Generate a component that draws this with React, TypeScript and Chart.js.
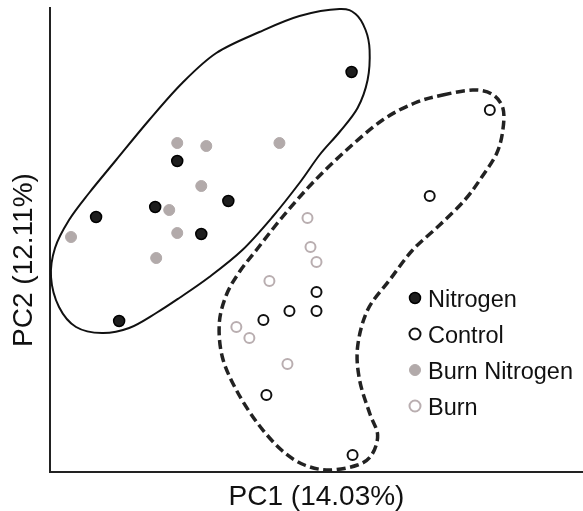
import { useEffect, useRef } from "react";
import { Chart, registerables } from "chart.js";

Chart.register(...registerables);

const FONT = "'Liberation Sans', Arial, Helvetica, sans-serif";

const seriesNames = ["Nitrogen", "Control", "Burn Nitrogen", "Burn"];

const nitrogenPC1 = [301, 127, 178, 105, 46, 151, 69];
const nitrogenPC2 = [400, 311, 271, 265, 255, 238, 151];
const controlPC1 = [439, 379, 266, 239, 266, 213, 216, 302];
const controlPC2 = [362, 276, 180, 161, 161, 152, 77, 17];
const burnNitrogenPC1 = [127, 156, 229, 151, 119, 21, 127, 106];
const burnNitrogenPC2 = [329, 326, 329, 286, 262, 235, 239, 214];
const burnPC1 = [257, 260, 266, 219, 186, 199, 237];
const burnPC2 = [254, 225, 210, 191, 145, 134, 108];

// outline of the nitrogen-treated group (solid)
const nitrogenHull: [number, number][] = [
  [1, 195], [5, 224], [19, 252], [39, 279], [66, 312], [99, 352], [132, 389],
  [166, 419], [209, 440], [249, 456], [289, 463], [305, 458], [315, 442],
  [319, 422], [317, 392], [307, 364], [289, 340], [269, 317], [249, 289],
  [222, 255], [192, 222], [159, 195], [129, 174], [106, 159], [79, 144],
  [52, 139], [26, 145], [9, 165],
];

// outline of the non-nitrogen group (dashed)
const controlHull: [number, number][] = [
  [392, 377], [422, 382], [441, 378], [452, 364], [452, 342], [446, 319],
  [431, 295], [414, 272], [389, 247], [362, 222], [339, 192], [317, 162],
  [307, 125], [309, 92], [319, 59], [327, 37], [321, 17], [307, 7], [279, 2],
  [254, 7], [231, 22], [207, 49], [186, 82], [172, 115], [169, 149],
  [176, 177], [189, 200], [206, 222], [232, 255], [262, 289], [296, 322],
  [332, 352], [364, 369],
];

const axisTitleX = "PC1 (14.03%)";
const axisTitleY = "PC2 (12.11%)";
const pc1Range = [0, 532];
const pc2Range = [0, 464];

const toPoints = (xs: number[], ys: number[]) => xs.map((x, i) => ({ x, y: ys[i] }));

const outlinePlugin = {
  id: "groupOutlines",
  beforeDatasetsDraw(chart: any) {
    const { ctx, scales } = chart;
    const sx = scales.x;
    const sy = scales.y;
    const drawClosed = (pts: [number, number][], dash: number[], width: number, color: string) => {
      const p = pts.map(([a, b]) => [sx.getPixelForValue(a), sy.getPixelForValue(b)]);
      const n = p.length;
      ctx.save();
      ctx.beginPath();
      ctx.moveTo(p[0][0], p[0][1]);
      for (let i = 0; i < n; i++) {
        const p0 = p[(i - 1 + n) % n];
        const p1 = p[i];
        const p2 = p[(i + 1) % n];
        const p3 = p[(i + 2) % n];
        ctx.bezierCurveTo(
          p1[0] + (p2[0] - p0[0]) / 6,
          p1[1] + (p2[1] - p0[1]) / 6,
          p2[0] - (p3[0] - p1[0]) / 6,
          p2[1] - (p3[1] - p1[1]) / 6,
          p2[0],
          p2[1]
        );
      }
      ctx.closePath();
      ctx.setLineDash(dash);
      ctx.lineWidth = width;
      ctx.strokeStyle = color;
      ctx.lineJoin = "round";
      ctx.stroke();
      ctx.restore();
    };
    drawClosed(nitrogenHull, [], 2, "#111111");
    drawClosed(controlHull, [9, 4.5], 3.5, "#222222");
  },
};

const legendAndTitlePlugin = {
  id: "insideLegend",
  afterDraw(chart: any) {
    const { ctx, chartArea } = chart;
    ctx.save();
    // y axis title
    ctx.translate(24, chartArea.top + 252);
    ctx.rotate(-Math.PI / 2);
    ctx.font = `28px ${FONT}`;
    ctx.fillStyle = "#111111";
    ctx.textAlign = "center";
    ctx.textBaseline = "middle";
    ctx.fillText(axisTitleY, 0, 0);
    ctx.restore();

    ctx.save();
    const symX = chartArea.left + 365;
    const textX = chartArea.left + 378;
    const top = chartArea.top + 290;
    const step = 36;
    ctx.font = `23.5px ${FONT}`;
    ctx.textAlign = "left";
    ctx.textBaseline = "alphabetic";
    chart.data.datasets.forEach((ds: any, i: number) => {
      const cy = top + i * step;
      ctx.beginPath();
      ctx.arc(symX, cy, 5.5, 0, Math.PI * 2);
      ctx.fillStyle = ds.pointBackgroundColor;
      ctx.fill();
      ctx.lineWidth = ds.pointBorderWidth;
      ctx.strokeStyle = ds.pointBorderColor;
      ctx.stroke();
      ctx.fillStyle = "#111111";
      ctx.fillText(ds.label, textX, cy + 8.5);
    });
    ctx.restore();
  },
};

export default function App() {
  const ref = useRef<HTMLCanvasElement | null>(null);

  useEffect(() => {
    document.body.style.margin = "0";
    if (!ref.current) return;
    const chart = new Chart(ref.current, {
      type: "scatter",
      data: {
        datasets: [
          {
            label: seriesNames[0],
            data: toPoints(nitrogenPC1, nitrogenPC2),
            pointBackgroundColor: "#1e1e1e",
            pointBorderColor: "#000000",
            pointBorderWidth: 1.5,
            pointRadius: 5.5,
          },
          {
            label: seriesNames[1],
            data: toPoints(controlPC1, controlPC2),
            pointBackgroundColor: "#ffffff",
            pointBorderColor: "#111111",
            pointBorderWidth: 2,
            pointRadius: 5,
          },
          {
            label: seriesNames[2],
            data: toPoints(burnNitrogenPC1, burnNitrogenPC2),
            pointBackgroundColor: "#b2aaaa",
            pointBorderColor: "#b2aaaa",
            pointBorderWidth: 1,
            pointRadius: 5.5,
          },
          {
            label: seriesNames[3],
            data: toPoints(burnPC1, burnPC2),
            pointBackgroundColor: "#ffffff",
            pointBorderColor: "#b9aeb0",
            pointBorderWidth: 2,
            pointRadius: 5,
          },
        ] as any,
      },
      options: {
        animation: false,
        responsive: false,
        maintainAspectRatio: false,
        layout: { autoPadding: false, padding: { top: 8, right: 0, left: 0, bottom: 0 } },
        plugins: {
          legend: { display: false },
          tooltip: { enabled: false },
        },
        scales: {
          x: {
            type: "linear",
            min: pc1Range[0],
            max: pc1Range[1],
            ticks: { display: false },
            grid: { display: false },
            border: { display: true, color: "#222222", width: 2 },
            title: {
              display: true,
              text: axisTitleX,
              color: "#111111",
              font: { size: 28, family: FONT, lineHeight: 1 },
              padding: { top: 0, bottom: 0 },
            },
            afterFit: (s: any) => {
              s.height = 39;
            },
          },
          y: {
            type: "linear",
            min: pc2Range[0],
            max: pc2Range[1],
            ticks: { display: false },
            grid: { display: false },
            border: { display: true, color: "#222222", width: 2 },
            afterFit: (s: any) => {
              s.width = 50;
            },
          },
        },
      } as any,
      plugins: [outlinePlugin, legendAndTitlePlugin],
    });
    return () => chart.destroy();
  }, []);

  return (
    <div style={{ width: 583, height: 511 }}>
      <canvas ref={ref} width={583} height={511} style={{ display: "block" }} />
    </div>
  );
}
